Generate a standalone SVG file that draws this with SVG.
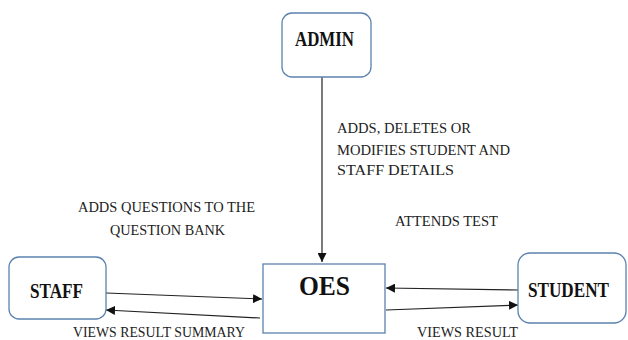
<svg xmlns="http://www.w3.org/2000/svg" width="628" height="340" viewBox="0 0 628 340">
<defs>
<marker id="ah" viewBox="0 0 10 10" refX="10" refY="5" markerWidth="9" markerHeight="9" markerUnits="userSpaceOnUse" orient="auto">
<path d="M0,0 L10,5 L0,10 z" fill="#111"/>
</marker>
</defs>
<rect width="628" height="340" fill="#fff"/>
<g id="connectors" stroke="#222" stroke-width="1.2" fill="none" marker-end="url(#ah)">
<line x1="322" y1="77" x2="322" y2="262"/>
<line x1="106" y1="293" x2="262" y2="299"/>
<line x1="260" y1="318" x2="106" y2="310"/>
<line x1="518" y1="290" x2="386" y2="288"/>
<line x1="386" y1="310" x2="518" y2="305"/>
</g>
<g id="admin">
<rect x="282" y="13" width="89" height="64" rx="10" fill="#fff" stroke="#5b82b0" stroke-width="1.3"/>
<text font-family="Liberation Serif" font-weight="bold" fill="#111" x="295" y="46" font-size="20" textLength="59" lengthAdjust="spacingAndGlyphs">ADMIN</text>
</g>
<g id="staff">
<rect x="9" y="257" width="97" height="62" rx="10" fill="#fff" stroke="#5b82b0" stroke-width="1.3"/>
<text font-family="Liberation Serif" font-weight="bold" fill="#111" x="30" y="298" font-size="20" textLength="53" lengthAdjust="spacingAndGlyphs">STAFF</text>
</g>
<g id="oes">
<rect x="263" y="264" width="122" height="69" fill="#fff" stroke="#5b82b0" stroke-width="1.3"/>
<text font-family="Liberation Serif" font-weight="bold" fill="#111" x="299" y="295" font-size="27" textLength="51" lengthAdjust="spacingAndGlyphs">OES</text>
</g>
<g id="student">
<rect x="518" y="253" width="108" height="70" rx="12" fill="#fff" stroke="#5b82b0" stroke-width="1.3"/>
<text font-family="Liberation Serif" font-weight="bold" fill="#111" x="528" y="297" font-size="20" textLength="81" lengthAdjust="spacingAndGlyphs">STUDENT</text>
</g>
<g id="labels" font-size="15" fill="#222">
<text font-family="Liberation Serif" x="337" y="133" textLength="134" lengthAdjust="spacingAndGlyphs">ADDS, DELETES OR</text>
<text font-family="Liberation Serif" x="337" y="155" textLength="173" lengthAdjust="spacingAndGlyphs">MODIFIES STUDENT AND</text>
<text font-family="Liberation Serif" x="337" y="175" textLength="117" lengthAdjust="spacingAndGlyphs">STAFF DETAILS</text>
<text font-family="Liberation Serif" x="78" y="212" textLength="177" lengthAdjust="spacingAndGlyphs">ADDS QUESTIONS TO THE</text>
<text font-family="Liberation Serif" x="110" y="235" textLength="115" lengthAdjust="spacingAndGlyphs">QUESTION BANK</text>
<text font-family="Liberation Serif" x="395" y="226" textLength="103" lengthAdjust="spacingAndGlyphs">ATTENDS TEST</text>
<text font-family="Liberation Serif" x="73" y="337" textLength="172" lengthAdjust="spacingAndGlyphs">VIEWS RESULT SUMMARY</text>
<text font-family="Liberation Serif" x="417" y="337" textLength="101" lengthAdjust="spacingAndGlyphs">VIEWS RESULT</text>
</g>
</svg>
